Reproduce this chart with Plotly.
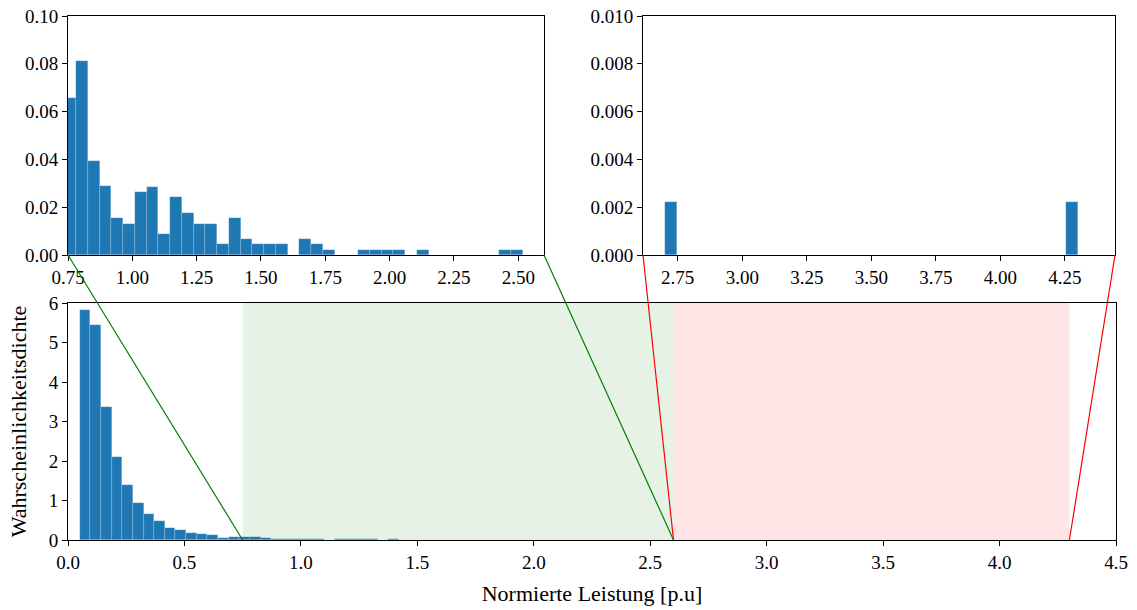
import plotly.graph_objects as go

# ---------------- data ----------------
bin_min = 0.05
bin_max = 4.30
n_bins = 93

# probability density per bin
density = [
    5.82, 5.44, 3.36, 2.09, 1.39, 0.945, 0.65, 0.48, 0.295, 0.25,
    0.19, 0.16, 0.12, 0.06, 0.076, 0.0657, 0.081, 0.0394, 0.0288, 0.0153,
    0.0131, 0.0263, 0.0285, 0.0088, 0.0241, 0.0175, 0.0131, 0.0131, 0.0044, 0.0153,
    0.0066, 0.0044, 0.0044, 0.0044, 0.0, 0.0066, 0.0044, 0.0022, 0.0, 0.0,
    0.0022, 0.0022, 0.0022, 0.0022, 0.0, 0.0022, 0.0, 0.0, 0.0, 0.0,
    0.0, 0.0, 0.0022, 0.0022, 0.0, 0.0, 0.0, 0.0, 0.0022, 0.0,
    0.0, 0.0, 0.0, 0.0, 0.0, 0.0, 0.0, 0.0, 0.0, 0.0,
    0.0, 0.0, 0.0, 0.0, 0.0, 0.0, 0.0, 0.0, 0.0, 0.0,
    0.0, 0.0, 0.0, 0.0, 0.0, 0.0, 0.0, 0.0, 0.0, 0.0,
    0.0, 0.0, 0.0022,
]

zoom_green = [0.75, 2.6]
zoom_red = [2.6, 4.3]

main_xrange = [0.0, 4.5]
main_yrange = [0.0, 6.0]
in1_xrange = [0.75, 2.6]
in1_yrange = [0.0, 0.10]
in2_xrange = [2.6156, 4.4437]
in2_yrange = [0.0, 0.010]

main_xticks = [0.0, 0.5, 1.0, 1.5, 2.0, 2.5, 3.0, 3.5, 4.0, 4.5]
main_yticks = [0, 1, 2, 3, 4, 5, 6]
in1_xticks = [0.75, 1.00, 1.25, 1.50, 1.75, 2.00, 2.25, 2.50]
in1_yticks = [0.00, 0.02, 0.04, 0.06, 0.08, 0.10]
in2_xticks = [2.75, 3.00, 3.25, 3.50, 3.75, 4.00, 4.25]
in2_yticks = [0.000, 0.002, 0.004, 0.006, 0.008, 0.010]

# ---------------- layout geometry ----------------
W, H = 1137, 610
L, R, T, B = 68, 1116, 16, 540
PW, PH = R - L, B - T

def fx(px):
    return (px - L) / PW

def fy(py):
    return (B - py) / PH

MAIN_X = [fx(68), fx(1116)]
MAIN_Y = [fy(540), fy(303)]
IN1_X = [fx(68), fx(544)]
IN2_X = [fx(643), fx(1115)]
IN_Y = [fy(255), fy(16)]

bw = (bin_max - bin_min) / n_bins
centers = [bin_min + (i + 0.5) * bw for i in range(n_bins)]

BLUE = "#1f77b4"
FONT = "Liberation Serif, Times New Roman, serif"

fig = go.Figure()
for xa, ya in [("x", "y"), ("x2", "y2"), ("x3", "y3")]:
    fig.add_trace(go.Bar(
        x=centers, y=density, width=bw, xaxis=xa, yaxis=ya,
        marker=dict(color=BLUE, line=dict(color="rgba(255,255,255,0.35)", width=0.5)),
        showlegend=False, hoverinfo="x+y",
    ))

def axis(domain, rng, ticks, fmt, anchor, **kw):
    d = dict(domain=domain, range=rng, tickvals=ticks, tickformat=fmt, anchor=anchor,
             showline=True, linecolor="black", linewidth=1, mirror=True,
             ticks="outside", ticklen=5, tickwidth=1, tickcolor="black",
             showgrid=False, zeroline=False, automargin=False, fixedrange=True,
             tickfont=dict(family=FONT, size=19, color="black"))
    d.update(kw)
    return d

def main_px(v):
    return MAIN_X[0] + (v - main_xrange[0]) / (main_xrange[1] - main_xrange[0]) * (MAIN_X[1] - MAIN_X[0])

shapes = [
    dict(type="rect", xref="x", yref="y domain", x0=zoom_green[0], x1=zoom_green[1], y0=0, y1=1,
         fillcolor="rgba(0,128,0,0.1)", line=dict(width=0), layer="above"),
    dict(type="rect", xref="x", yref="y domain", x0=zoom_red[0], x1=zoom_red[1], y0=0, y1=1,
         fillcolor="rgba(255,0,0,0.1)", line=dict(width=0), layer="above"),
    dict(type="line", xref="paper", yref="paper", x0=IN1_X[0], y0=IN_Y[0],
         x1=main_px(zoom_green[0]), y1=MAIN_Y[0], line=dict(color="green", width=1.2), layer="above"),
    dict(type="line", xref="paper", yref="paper", x0=IN1_X[1], y0=IN_Y[0],
         x1=main_px(zoom_green[1]), y1=MAIN_Y[0], line=dict(color="green", width=1.2), layer="above"),
    dict(type="line", xref="paper", yref="paper", x0=IN2_X[0], y0=IN_Y[0],
         x1=main_px(zoom_red[0]), y1=MAIN_Y[0], line=dict(color="red", width=1.2), layer="above"),
    dict(type="line", xref="paper", yref="paper", x0=IN2_X[1], y0=IN_Y[0],
         x1=main_px(zoom_red[1]), y1=MAIN_Y[0], line=dict(color="red", width=1.2), layer="above"),
]

fig.update_layout(
    width=W, height=H,
    margin=dict(l=L, r=W - R, t=T, b=H - B, pad=0),
    paper_bgcolor="white", plot_bgcolor="rgba(0,0,0,0)",
    bargap=0, barmode="overlay",
    font=dict(family=FONT, color="black"),
    xaxis=axis(MAIN_X, main_xrange, main_xticks, ".1f", "y",
               title=dict(text="Normierte Leistung [p.u]", font=dict(family=FONT, size=22), standoff=13)),
    yaxis=axis(MAIN_Y, main_yrange, main_yticks, "d", "x",
               title=dict(text="Wahrscheinlichkeitsdichte", font=dict(family=FONT, size=22), standoff=16)),
    xaxis2=axis(IN1_X, in1_xrange, in1_xticks, ".2f", "y2"),
    yaxis2=axis(IN_Y, in1_yrange, in1_yticks, ".2f", "x2"),
    xaxis3=axis(IN2_X, in2_xrange, in2_xticks, ".2f", "y3"),
    yaxis3=axis(IN_Y, in2_yrange, in2_yticks, ".3f", "x3"),
    shapes=shapes,
)

fig.write_html("out.html")
